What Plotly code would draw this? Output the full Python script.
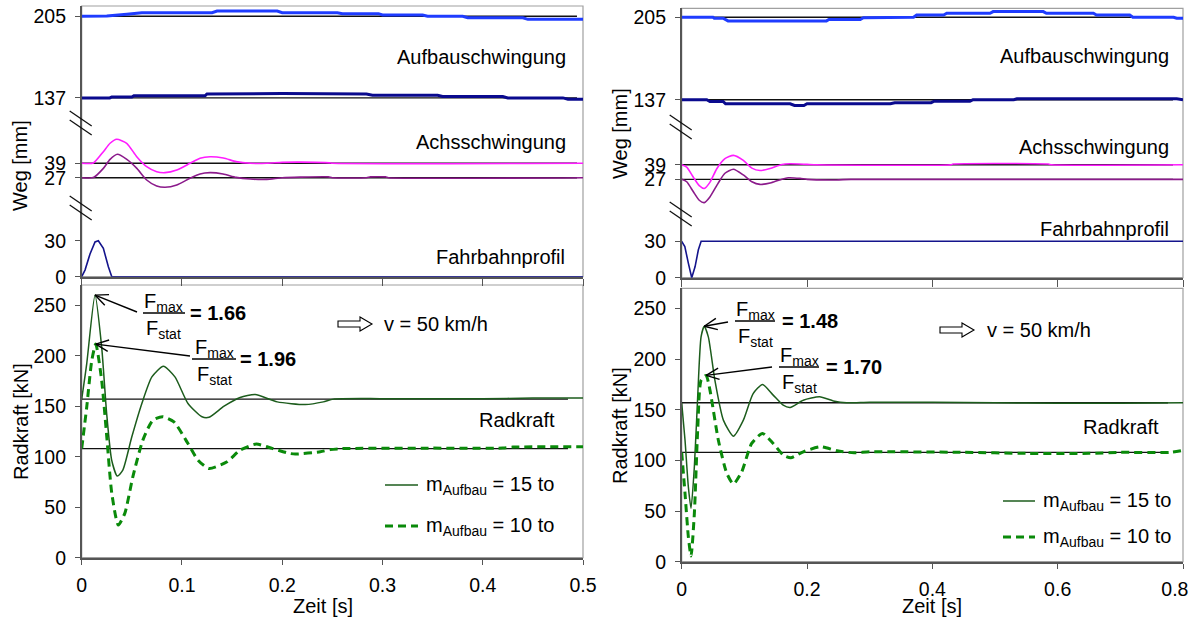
import math
import plotly.graph_objects as go

W, H = 1195, 619


def px(x):
    return x / W


def py(y):
    return 1 - y / H


FONT = "Liberation Sans, Arial, sans-serif"

# ---------------- left case: Schwelle (bump), t = 0 ... 0.5 s ----------------
L_t_profil = [0, 0.0033, 0.0083, 0.0133, 0.0166, 0.0216, 0.0266, 0.030, 0.5]
L_profil = [0, 5.5, 19, 29, 30, 23.6, 8.3, 0, 0]

L_t_achs_hi = [0, 0.0116, 0.0216, 0.0283, 0.0349, 0.0449, 0.0549, 0.0648, 0.0748, 0.0831,
               0.0948, 0.108, 0.118, 0.128, 0.1413, 0.154, 0.168, 0.1845, 0.2, 0.218, 0.247, 0.25, 0.5]
L_achs_hi = [39.1, 39.3, 48.7, 55.7, 59, 55.7, 44.5, 36.2, 32, 31.2,
             33.4, 39, 43.2, 44.5, 43.4, 40.4, 39, 39, 39.8, 40, 39.4, 39, 39]
L_t_achs_lo = [0, 0.0116, 0.0216, 0.0283, 0.0356, 0.045, 0.055, 0.0648, 0.0748, 0.0831,
               0.0948, 0.108, 0.118, 0.128, 0.141, 0.154, 0.168, 0.1845, 0.2, 0.218, 0.246,
               0.25, 0.284, 0.288, 0.303, 0.306, 0.5]
L_achs_lo = [27, 27.1, 34.8, 42.3, 46.5, 42.3, 34.8, 25.1, 20.1, 19,
             20.9, 26.5, 30.1, 31.2, 30.1, 27.3, 25.9, 25.6, 27, 27.5, 27.7,
             27, 27, 27.7, 27.7, 27, 27]

L_t_aufbau_hi = [0, 0.025, 0.045, 0.06, 0.13, 0.135, 0.195, 0.2, 0.255, 0.26, 0.296, 0.3,
                 0.34, 0.345, 0.38, 0.385, 0.44, 0.445, 0.5]
L_aufbau_hi = [205, 205.3, 206.7, 208, 208, 209.4, 209.4, 208, 208, 207.2, 207.2, 206.1,
               206.1, 205, 205, 203.8, 203.8, 202.5, 202.5]
L_t_aufbau_lo = [0, 0.028, 0.03, 0.05, 0.052, 0.123, 0.125, 0.2, 0.284, 0.29, 0.355, 0.36,
                 0.42, 0.425, 0.48, 0.485, 0.5]
L_aufbau_lo = [137, 137, 137.8, 137.8, 138.7, 138.7, 140.3, 140.6, 140.3, 139.2, 139.2, 138.2,
               138.2, 137, 137, 135.9, 135.9]

L_t_rad = [0, 0.005, 0.0133, 0.0199, 0.0249, 0.0299, 0.0355, 0.041, 0.05, 0.06, 0.07, 0.0815,
           0.093, 0.106, 0.12, 0.127, 0.142, 0.158, 0.173, 0.195, 0.223, 0.241, 0.251, 0.3,
           0.4, 0.45, 0.5]
L_rad_15 = [157, 192, 260, 208.7, 142.8, 96.6, 80.8, 86.7, 119.7, 152.7, 179, 189.6,
            179, 152.7, 139.5, 139, 150, 158.6, 161.6, 154.3, 151.7, 154.3, 157, 157.5,
            157.5, 158, 158]
L_t_rad10 = [0, 0.005, 0.01, 0.014, 0.0199, 0.025, 0.03, 0.0365, 0.043, 0.051, 0.061, 0.071,
             0.081, 0.092, 0.106, 0.116, 0.127, 0.145, 0.158, 0.174, 0.19, 0.207, 0.213,
             0.238, 0.248, 0.26, 0.35, 0.42, 0.43, 0.5]
L_rad_10 = [108, 149, 195, 211.5, 175.8, 119.7, 63.7, 32.3, 43.9, 80, 116.4, 136.2,
            139.5, 134.5, 113, 96.6, 88.4, 95, 106.5, 112.5, 108.2, 103.3, 102.6,
            104.9, 107, 108, 108.5, 108.5, 109.5, 109.8]

# ---------------- right case: Schlagloch (pothole), t = 0 ... 0.8 s ----------------
R_t_profil = [0, 0.005, 0.0106, 0.016, 0.0213, 0.0266, 0.031, 0.8]
R_profil = [30, 25.6, 12, 0, 9, 23, 30, 30]

R_t_achs_hi = [0, 0.008, 0.0186, 0.028, 0.036, 0.045, 0.056, 0.069, 0.0825, 0.0984, 0.112,
               0.125, 0.141, 0.16, 0.173, 0.2, 0.2155, 0.43, 0.433, 0.585, 0.59, 0.8]
R_achs_hi = [39, 37, 28.7, 21.8, 19.5, 24.5, 35.7, 44, 46.75, 42.6, 36.2,
             34.25, 36, 39.3, 39.8, 39.3, 39, 39, 39.6, 39.6, 39, 39]
R_t_achs_lo = [0, 0.008, 0.0186, 0.028, 0.036, 0.045, 0.058, 0.069, 0.0825, 0.0984, 0.112,
               0.125, 0.143, 0.16, 0.17, 0.189, 0.2, 0.247, 0.27, 0.8]
R_achs_lo = [27, 25, 16.7, 9.75, 7.8, 12.5, 23.7, 32, 35.3, 30.6, 25,
             22.8, 24.2, 27.1, 28.3, 27.8, 27, 26.5, 27, 27]

R_t_aufbau_hi = [0, 0.05, 0.052, 0.066, 0.074, 0.231, 0.235, 0.285, 0.29, 0.33, 0.335, 0.37,
                 0.375, 0.418, 0.423, 0.492, 0.497, 0.577, 0.582, 0.657, 0.662, 0.715, 0.72,
                 0.785, 0.79, 0.8]
R_aufbau_hi = [205, 205, 204.2, 204.2, 202, 202, 203.2, 203.2, 204.6, 204.6, 205, 205,
               206.9, 206.9, 208.3, 208.3, 209.7, 209.7, 208.3, 208.3, 206.9, 206.9, 205,
               205, 204.2, 204.2]
R_t_aufbau_lo = [0, 0.04, 0.045, 0.066, 0.07, 0.173, 0.18, 0.195, 0.2, 0.333, 0.34, 0.398,
                 0.403, 0.46, 0.465, 0.53, 0.535, 0.79, 0.8]
R_aufbau_lo = [137, 137, 135.6, 135.6, 133.7, 133.7, 132.3, 132.3, 133.7, 133.7, 134.6, 134.6,
               135.8, 135.8, 137, 137, 137.8, 137.8, 137]

R_t_rad = [0, 0.0053, 0.0106, 0.0149, 0.0202, 0.0255, 0.0309, 0.036, 0.0425, 0.053, 0.0665,
           0.0825, 0.0984, 0.114, 0.129, 0.146, 0.162, 0.173, 0.194, 0.22, 0.242, 0.263,
           0.3, 0.4, 0.5, 0.6, 0.7, 0.8]
R_rad_15 = [157, 120, 74, 52.7, 93.7, 162.8, 222, 232.5, 222, 179, 139.8,
            124, 139.8, 166, 175, 164.5, 154.6, 152.3, 159.5, 162.8, 158.8, 156.9,
            157.5, 157.5, 157, 156.5, 156.5, 157]
R_t_rad10 = [0, 0.0053, 0.0106, 0.0149, 0.0202, 0.0255, 0.0309, 0.039, 0.0451, 0.0585, 0.072,
             0.0825, 0.0958, 0.1117, 0.129, 0.146, 0.162, 0.174, 0.194, 0.221, 0.248, 0.275,
             0.3, 0.45, 0.55, 0.65, 0.7, 0.78, 0.8]
R_rad_10 = [108, 67.5, 24.7, 5.6, 47.7, 130, 179, 184, 169.4, 120, 87.2,
            76.7, 88.8, 116.8, 126.7, 116.8, 105.3, 102.6, 108.5, 113.5, 109.5, 107.5,
            108.5, 108, 107, 107, 108, 108, 110]

# time-axis ticks of the right case (last label kept inside the figure edge)
R_time_ticks = [0, 0.2, 0.4, 0.6, 0.8]
R_time_labels = ["0", "0.2", "0.4", "0.6", "0.8\u00a0\u00a0\u00a0"]

# static reference levels
F_stat = [157, 108]          # kN, for m_Aufbau = 15 to / 10 to
weg_ref_aufbau = [205, 137]  # mm
weg_ref_achs = [39, 27]      # mm
L_t_end_weg, L_t_end_rad = 0.494, 0.485
R_t_end_weg, R_t_end_rad = 0.784, 0.776

# colours / styles
C_AUF_HI = "#1f3cff"
C_AUF_LO = "#0a0a8e"
C_ACH_HI = "#ff1cff"
C_ACH_LO = "#8b1a8b"
C_PROF = "#14148c"
C_G15 = "#1c5c1c"
C_G10 = "#0a8a0a"
C_AX = "#555555"
C_BOX = "#a0a0a0"

fig = go.Figure()

# broken-axis offsets of the three bands in the Weg plots (display = value + offset)
panels = {
    "L": dict(x0=81.7, x1=583, up=(6, 276.7), lo=(285, 557.7), yr_up=225.6, yr_lo=270,
              off_achs=55.5, off_auf=12.0, tmax=0.5, dt=0.1,
              xa_lo="x", ya_lo="y", xa_up="x2", ya_up="y2"),
    "R": dict(x0=681.7, x1=1183, up=(8.3, 277.7), lo=(288.3, 561.7), yr_up=222.1, yr_lo=270,
              off_achs=54.1, off_auf=9.7, tmax=0.8, dt=0.2,
              xa_lo="x3", ya_lo="y3", xa_up="x4", ya_up="y4"),
}


def line(t, v, xa, ya, color, width, dash="solid", shape="spline"):
    fig.add_trace(go.Scatter(x=t, y=v, xaxis=xa, yaxis=ya, mode="lines",
                             line=dict(color=color, width=width, dash=dash, shape=shape,
                                       smoothing=0.6),
                             showlegend=False, hoverinfo="skip"))


def draw_weg(p, t_prof, prof, t_ah, ah, t_al, al, t_uh, uh, t_ul, ul, t_end):
    xa, ya = p["xa_up"], p["ya_up"]
    oa, ou = p["off_achs"], p["off_auf"]
    # static reference lines
    for v in weg_ref_aufbau:
        line([0, t_end], [v + ou] * 2, xa, ya, "#111111", 1.4, shape="linear")
    for v in weg_ref_achs:
        line([0, t_end], [v + oa] * 2, xa, ya, "#111111", 1.4, shape="linear")
    line(t_uh, [v + ou for v in uh], xa, ya, C_AUF_HI, 3, shape="linear")
    line(t_ul, [v + ou for v in ul], xa, ya, C_AUF_LO, 3, shape="linear")
    line(t_ah, [v + oa for v in ah], xa, ya, C_ACH_HI, 1.6)
    line(t_al, [v + oa for v in al], xa, ya, C_ACH_LO, 1.6)
    line(t_prof, prof, xa, ya, C_PROF, 1.6, shape="linear")


def draw_rad(p, t15, f15, t10, f10, t_end):
    xa, ya = p["xa_lo"], p["ya_lo"]
    for v in F_stat:
        line([0, t_end], [v, v], xa, ya, "#111111", 1.4, shape="linear")
    line(t15, f15, xa, ya, C_G15, 1.5)
    line(t10, f10, xa, ya, C_G10, 3, dash="8px,5px")


draw_weg(panels["L"], L_t_profil, L_profil, L_t_achs_hi, L_achs_hi, L_t_achs_lo, L_achs_lo,
         L_t_aufbau_hi, L_aufbau_hi, L_t_aufbau_lo, L_aufbau_lo, L_t_end_weg)
draw_rad(panels["L"], L_t_rad, L_rad_15, L_t_rad10, L_rad_10, L_t_end_rad)
draw_weg(panels["R"], R_t_profil, R_profil, R_t_achs_hi, R_achs_hi, R_t_achs_lo, R_achs_lo,
         R_t_aufbau_hi, R_aufbau_hi, R_t_aufbau_lo, R_aufbau_lo, R_t_end_weg)
draw_rad(panels["R"], R_t_rad, R_rad_15, R_t_rad10, R_rad_10, R_t_end_rad)

tickfont = dict(family=FONT, size=19.5, color="black")
common = dict(showgrid=False, zeroline=False, showline=True, linecolor=C_AX, linewidth=1.6,
              ticks="outside", tickcolor=C_AX, tickwidth=1.2, tickfont=tickfont, mirror=False,
              automargin=False, ticklabeloverflow="allow")

layout_axes = {}
shapes = []
annotations = []

for key, p in panels.items():
    xd = [px(p["x0"]), px(p["x1"])]
    n_lo = p["xa_lo"][1:] or ""
    n_up = p["xa_up"][1:]
    # lower (Radkraft) axes
    xlo = dict(common, domain=xd, anchor=p["ya_lo"], range=[0, p["tmax"]],
               dtick=p["dt"], tick0=0, ticklen=5, ticklabelstandoff=4)
    if key == "R":
        xlo.update(tickmode="array", tickvals=R_time_ticks, ticktext=R_time_labels)
    layout_axes["xaxis" + n_lo] = xlo
    layout_axes["yaxis" + n_lo] = dict(common, domain=[py(p["lo"][1]), py(p["lo"][0])],
                                       anchor=p["xa_lo"], range=[0, p["yr_lo"]], dtick=50,
                                       tick0=0, ticklen=5, ticklabelstandoff=5)
    # upper (Weg) axes with broken scale
    oa, ou = p["off_achs"], p["off_auf"]
    tv = [0, 30, weg_ref_achs[1] + oa, weg_ref_achs[0] + oa,
          weg_ref_aufbau[1] + ou, weg_ref_aufbau[0] + ou]
    tt = ["0", "30", str(weg_ref_achs[1]), str(weg_ref_achs[0]),
          str(weg_ref_aufbau[1]), str(weg_ref_aufbau[0])]
    layout_axes["xaxis" + n_up] = dict(common, domain=xd, anchor=p["ya_up"], range=[0, p["tmax"]],
                                       dtick=p["dt"], tick0=0, ticklen=7, showticklabels=False)
    layout_axes["yaxis" + n_up] = dict(common, domain=[py(p["up"][1]), py(p["up"][0])],
                                       anchor=p["xa_up"], range=[0, p["yr_up"]],
                                       tickmode="array", tickvals=tv, ticktext=tt, ticklen=5,
                                       ticklabelstandoff=5)
    # light frame around both plot areas
    for xa, ya in ((p["xa_lo"], p["ya_lo"]), (p["xa_up"], p["ya_up"])):
        shapes.append(dict(type="rect", xref=xa + " domain", yref=ya + " domain",
                           x0=0, x1=1, y0=0, y1=1, line=dict(color=C_BOX, width=1.2),
                           layer="below"))


def text(s, x, y, xanchor="center", size=20, bold=False, angle=0, yanchor="middle"):
    annotations.append(dict(text=("<b>%s</b>" % s) if bold else s, x=px(x), y=py(y),
                            xref="paper", yref="paper", xanchor=xanchor, yanchor=yanchor,
                            showarrow=False, textangle=angle,
                            font=dict(family=FONT, size=size, color="black")))


def seg(x0, y0, x1, y1, color="black", width=1.3, dash="solid"):
    shapes.append(dict(type="line", xref="paper", yref="paper", x0=px(x0), x1=px(x1),
                       y0=py(y0), y1=py(y1), line=dict(color=color, width=width, dash=dash)))


def hline(x0, x1, y, color="black", width=1.3, dash="solid"):
    seg(x0, y, x1, y, color, width, dash)


def hollow_arrow(x0, y):
    pts = [(x0, y - 3), (x0 + 22, y - 3), (x0 + 22, y - 7), (x0 + 34, y), (x0 + 22, y + 7),
           (x0 + 22, y + 3), (x0, y + 3)]
    path = "M " + " L ".join("%.5f,%.5f" % (px(a), py(b)) for a, b in pts) + " Z"
    shapes.append(dict(type="path", xref="paper", yref="paper", path=path,
                       line=dict(color="black", width=1.1), fillcolor="white"))


def axis_break(cx, cy):
    # double slash across the broken y axis
    for d in (-4.5, 4.5):
        seg(cx - 12, cy - 7.5 + d, cx + 10, cy + 7.5 + d, color="#111111", width=1.3)


def ratio_label(xc, y_bar, half, value_text, x_eq):
    text("F<sub>max</sub>", xc, y_bar - 11, size=20)
    text("F<sub>stat</sub>", xc, y_bar + 16, size=20)
    hline(xc - half, xc + half, y_bar, width=1.3)
    text("= " + value_text, x_eq, y_bar, xanchor="left", size=20, bold=True)


def peak_arrow(p, t, f, tail_x, tail_y):
    # open arrow from the label to the maximum of the curve
    i = max(range(len(f)), key=lambda k: f[k])
    hx = p["x0"] + t[i] / p["tmax"] * (p["x1"] - p["x0"])
    hy = p["lo"][1] - f[i] / p["yr_lo"] * (p["lo"][1] - p["lo"][0])
    seg(tail_x, tail_y, hx, hy, width=1.4)
    ang = math.atan2(tail_y - hy, tail_x - hx)
    for s in (-1, 1):
        a = ang + s * math.radians(24)
        seg(hx, hy, hx + 14 * math.cos(a), hy + 14 * math.sin(a), width=1.4)


def ratio(f, stat):
    return "%.2f" % (max(f) / stat)


# ---- left panel texts ----
text("Aufbauschwingung", 568, 57, "right")
text("Achsschwingung", 568, 142, "right")
text("Fahrbahnprofil", 567, 257, "right")
text("Radkraft", 557, 420, "right")
text("Weg [mm]", 20, 166, angle=-90)
text("Radkraft [kN]", 21, 422, angle=-90)
text("Zeit [s]", 323, 606)
hollow_arrow(338, 324)
text("v = 50 km/h", 382, 324, "left")
ratio_label(164, 313, 21, ratio(L_rad_15, F_stat[0]), 188)
ratio_label(214, 359, 22, ratio(L_rad_10, F_stat[1]), 238)
peak_arrow(panels["L"], L_t_rad, L_rad_15, 137, 312)
peak_arrow(panels["L"], L_t_rad10, L_rad_10, 190, 356)
hline(385, 418, 485, color=C_G15, width=1.5)
hline(385, 418, 526, color=C_G10, width=3, dash="8px,5px")
text("m<sub>Aufbau</sub> = 15 to", 424, 485, "left")
text("m<sub>Aufbau</sub> = 10 to", 424, 526, "left")
axis_break(81.7, 123)
axis_break(81.7, 208)

# ---- right panel texts ----
text("Aufbauschwingung", 1171, 56, "right")
text("Achsschwingung", 1171, 147, "right")
text("Fahrbahnprofil", 1171, 229, "right")
text("Radkraft", 1161, 427, "right")
text("Weg [mm]", 620, 134, angle=-90)
text("Radkraft [kN]", 620, 426, angle=-90)
text("Zeit [s]", 932, 606)
hollow_arrow(940, 330)
text("v = 50 km/h", 985, 330, "left")
ratio_label(755, 321, 20, ratio(R_rad_15, F_stat[0]), 780)
ratio_label(799, 367, 20, ratio(R_rad_10, F_stat[1]), 824)
peak_arrow(panels["R"], R_t_rad, R_rad_15, 728, 322)
peak_arrow(panels["R"], R_t_rad10, R_rad_10, 772, 367)
hline(1003, 1035, 501, color=C_G15, width=1.5)
hline(1003, 1035, 537, color=C_G10, width=3, dash="8px,5px")
text("m<sub>Aufbau</sub> = 15 to", 1041, 501, "left")
text("m<sub>Aufbau</sub> = 10 to", 1041, 537, "left")
axis_break(681.7, 127)
axis_break(681.7, 214)

fig.update_layout(width=W, height=H, autosize=False, margin=dict(l=0, r=0, t=0, b=0, pad=0),
                  paper_bgcolor="white", plot_bgcolor="white", showlegend=False,
                  font=dict(family=FONT, size=18, color="black"),
                  shapes=shapes, annotations=annotations, **layout_axes)

fig.write_html("out.html")
